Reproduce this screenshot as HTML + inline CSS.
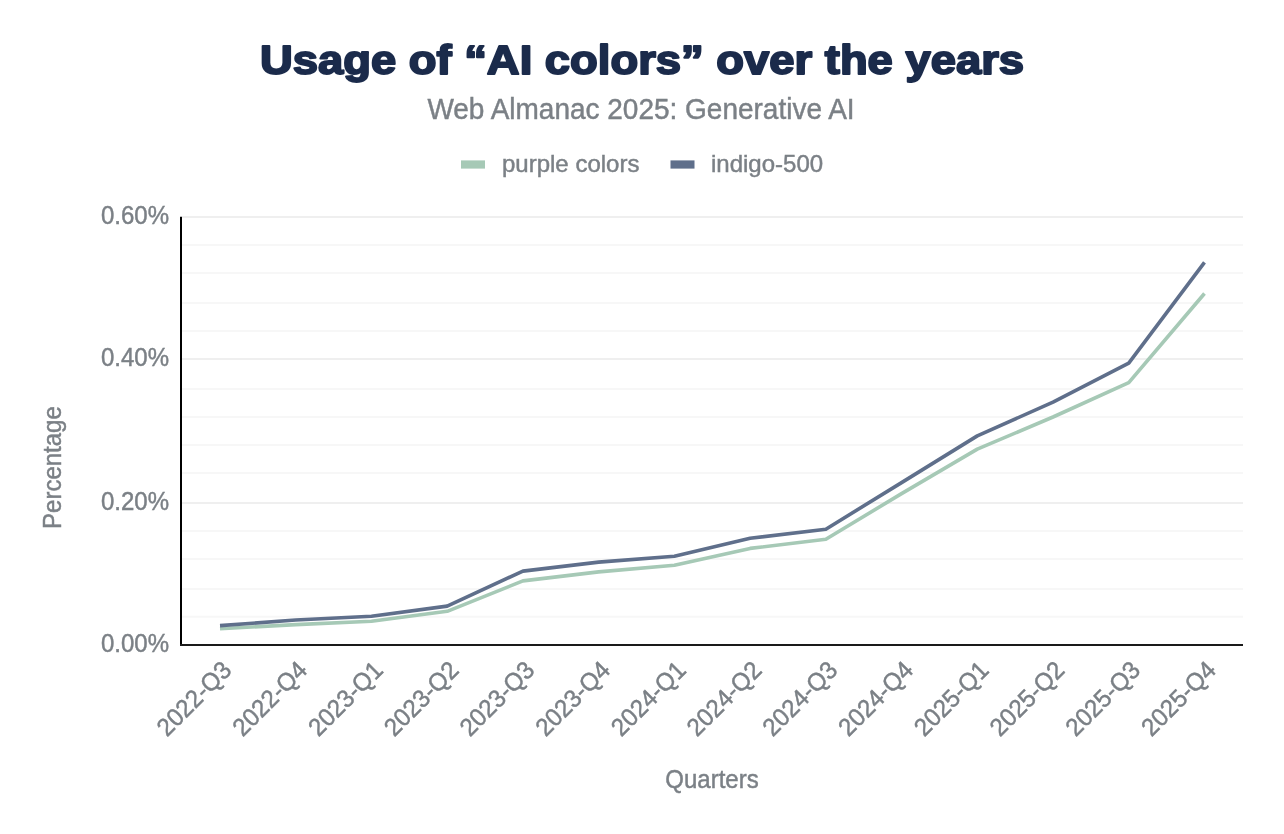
<!DOCTYPE html>
<html><head><meta charset="utf-8"><style>
html,body{margin:0;padding:0;background:#fff;}
svg{display:block;will-change:transform;font-family:"Liberation Sans",sans-serif;}
</style></head><body>
<svg width="1284" height="834" viewBox="0 0 1284 834">
<rect width="1284" height="834" fill="#fff"/>
<text x="642" y="73.6" text-anchor="middle" font-size="40" font-weight="bold" fill="#1b2b4b" stroke="#1b2b4b" stroke-width="1.9" stroke-linejoin="round" transform="translate(642 0) scale(1.135 1) translate(-642 0)">Usage of “AI colors” over the years</text>
<text transform="translate(641.00 118.80) scale(0.9615 1)" font-size="29.12" text-anchor="middle" fill="#7b8086" stroke="#7b8086" stroke-width="0.45" >Web Almanac 2025: Generative AI</text>
<rect x="461" y="160.4" width="24" height="8.2" fill="#a6c9b6"/>
<text transform="translate(502.00 171.80) scale(1.0000 1)" font-size="24.00" text-anchor="start" fill="#7b8086" stroke="#7b8086" stroke-width="0.45" >purple colors</text>
<rect x="670.5" y="160.4" width="24" height="8.2" fill="#5f6f8b"/>
<text transform="translate(711.00 171.80) scale(1.0000 1)" font-size="24.00" text-anchor="start" fill="#7b8086" stroke="#7b8086" stroke-width="0.45" >indigo-500</text>
<line x1="182" x2="1243" y1="217.00" y2="217.00" stroke="#efefef" stroke-width="2"/><line x1="182" x2="1243" y1="244.90" y2="244.90" stroke="#f7f7f7" stroke-width="2"/><line x1="182" x2="1243" y1="273.00" y2="273.00" stroke="#f7f7f7" stroke-width="2"/><line x1="182" x2="1243" y1="302.90" y2="302.90" stroke="#f7f7f7" stroke-width="2"/><line x1="182" x2="1243" y1="330.90" y2="330.90" stroke="#f7f7f7" stroke-width="2"/><line x1="182" x2="1243" y1="358.90" y2="358.90" stroke="#efefef" stroke-width="2"/><line x1="182" x2="1243" y1="388.90" y2="388.90" stroke="#f7f7f7" stroke-width="2"/><line x1="182" x2="1243" y1="417.00" y2="417.00" stroke="#f7f7f7" stroke-width="2"/><line x1="182" x2="1243" y1="444.90" y2="444.90" stroke="#f7f7f7" stroke-width="2"/><line x1="182" x2="1243" y1="472.90" y2="472.90" stroke="#f7f7f7" stroke-width="2"/><line x1="182" x2="1243" y1="502.90" y2="502.90" stroke="#efefef" stroke-width="2"/><line x1="182" x2="1243" y1="531.00" y2="531.00" stroke="#f7f7f7" stroke-width="2"/><line x1="182" x2="1243" y1="559.00" y2="559.00" stroke="#f7f7f7" stroke-width="2"/><line x1="182" x2="1243" y1="588.90" y2="588.90" stroke="#f7f7f7" stroke-width="2"/><line x1="182" x2="1243" y1="616.80" y2="616.80" stroke="#f7f7f7" stroke-width="2"/>
<line x1="181" x2="181" y1="216.8" y2="645.9" stroke="#000" stroke-width="2"/>
<line x1="180" x2="1243" y1="644.9" y2="644.9" stroke="#1a1a1a" stroke-width="2"/>
<text transform="translate(169.00 223.80) scale(0.9615 1)" font-size="24.96" text-anchor="end" fill="#7b8086" stroke="#7b8086" stroke-width="0.45" >0.60%</text><text transform="translate(169.00 365.70) scale(0.9615 1)" font-size="24.96" text-anchor="end" fill="#7b8086" stroke="#7b8086" stroke-width="0.45" >0.40%</text><text transform="translate(169.00 509.70) scale(0.9615 1)" font-size="24.96" text-anchor="end" fill="#7b8086" stroke="#7b8086" stroke-width="0.45" >0.20%</text><text transform="translate(169.00 651.70) scale(0.9615 1)" font-size="24.96" text-anchor="end" fill="#7b8086" stroke="#7b8086" stroke-width="0.45" >0.00%</text>
<polyline points="220.00,628.80 295.73,624.60 371.46,621.30 447.19,611.30 522.92,580.90 598.65,571.90 674.38,565.30 750.11,548.40 825.84,539.30 901.57,493.60 977.30,449.10 1053.03,417.00 1128.76,382.70 1204.49,293.50" fill="none" stroke="#a6c9b6" stroke-width="3.6" stroke-linejoin="round"/>
<polyline points="220.00,625.60 295.73,620.00 371.46,616.20 447.19,606.10 522.92,571.10 598.65,562.10 674.38,556.20 750.11,538.30 825.84,529.20 901.57,482.60 977.30,435.90 1053.03,402.10 1128.76,363.10 1204.49,262.40" fill="none" stroke="#5f6f8b" stroke-width="3.6" stroke-linejoin="round"/>
<text transform="translate(233.00 671.50) rotate(-45) scale(0.9615 1)" font-size="24.96" text-anchor="end" fill="#7b8086" stroke="#7b8086" stroke-width="0.45" >2022-Q3</text><text transform="translate(308.73 671.50) rotate(-45) scale(0.9615 1)" font-size="24.96" text-anchor="end" fill="#7b8086" stroke="#7b8086" stroke-width="0.45" >2022-Q4</text><text transform="translate(384.46 671.50) rotate(-45) scale(0.9615 1)" font-size="24.96" text-anchor="end" fill="#7b8086" stroke="#7b8086" stroke-width="0.45" >2023-Q1</text><text transform="translate(460.19 671.50) rotate(-45) scale(0.9615 1)" font-size="24.96" text-anchor="end" fill="#7b8086" stroke="#7b8086" stroke-width="0.45" >2023-Q2</text><text transform="translate(535.92 671.50) rotate(-45) scale(0.9615 1)" font-size="24.96" text-anchor="end" fill="#7b8086" stroke="#7b8086" stroke-width="0.45" >2023-Q3</text><text transform="translate(611.65 671.50) rotate(-45) scale(0.9615 1)" font-size="24.96" text-anchor="end" fill="#7b8086" stroke="#7b8086" stroke-width="0.45" >2023-Q4</text><text transform="translate(687.38 671.50) rotate(-45) scale(0.9615 1)" font-size="24.96" text-anchor="end" fill="#7b8086" stroke="#7b8086" stroke-width="0.45" >2024-Q1</text><text transform="translate(763.11 671.50) rotate(-45) scale(0.9615 1)" font-size="24.96" text-anchor="end" fill="#7b8086" stroke="#7b8086" stroke-width="0.45" >2024-Q2</text><text transform="translate(838.84 671.50) rotate(-45) scale(0.9615 1)" font-size="24.96" text-anchor="end" fill="#7b8086" stroke="#7b8086" stroke-width="0.45" >2024-Q3</text><text transform="translate(914.57 671.50) rotate(-45) scale(0.9615 1)" font-size="24.96" text-anchor="end" fill="#7b8086" stroke="#7b8086" stroke-width="0.45" >2024-Q4</text><text transform="translate(990.30 671.50) rotate(-45) scale(0.9615 1)" font-size="24.96" text-anchor="end" fill="#7b8086" stroke="#7b8086" stroke-width="0.45" >2025-Q1</text><text transform="translate(1066.03 671.50) rotate(-45) scale(0.9615 1)" font-size="24.96" text-anchor="end" fill="#7b8086" stroke="#7b8086" stroke-width="0.45" >2025-Q2</text><text transform="translate(1141.76 671.50) rotate(-45) scale(0.9615 1)" font-size="24.96" text-anchor="end" fill="#7b8086" stroke="#7b8086" stroke-width="0.45" >2025-Q3</text><text transform="translate(1217.49 671.50) rotate(-45) scale(0.9615 1)" font-size="24.96" text-anchor="end" fill="#7b8086" stroke="#7b8086" stroke-width="0.45" >2025-Q4</text>
<text transform="translate(712.00 787.70) scale(0.9615 1)" font-size="24.96" text-anchor="middle" fill="#7b8086" stroke="#7b8086" stroke-width="0.45" >Quarters</text>
<text transform="translate(61.00 467.60) rotate(-90) scale(0.9615 1)" font-size="24.96" text-anchor="middle" fill="#7b8086" stroke="#7b8086" stroke-width="0.45" >Percentage</text>
</svg>
</body></html>
